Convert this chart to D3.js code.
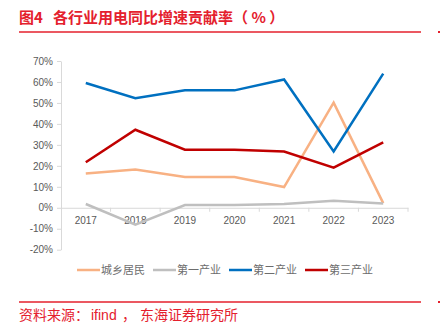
<!DOCTYPE html>
<html><head><meta charset="utf-8">
<script src="https://cdn.jsdelivr.net/npm/d3@7"></script>
<style>body{margin:0;background:#fff;}svg{display:block;}</style>
</head><body>
<script>
const years = ["2017","2018","2019","2020","2021","2022","2023"];
const seriesNames = ["城乡居民","第一产业","第二产业","第三产业"];
const chengxiang = [16.3,18.3,14.7,14.7,9.9,50.1,2.2];
const diyi = [1.8,-8.1,1.3,1.3,1.8,3.3,2.0];
const dier = [59.5,52.3,56.0,56.0,61.2,26.9,64.0];
const disan = [21.7,37.2,27.7,27.7,26.8,19.1,31.2];
const yTicks = [-20,-10,0,10,20,30,40,50,60,70];
const colors = ["#f8b183","#bfbfbf","#0070c0","#c00000"];
const titleParts = ["图4","各行业用电同比增速贡献率（ % ）"];
const sourceParts = ["资料来源：","ifind","，","东海证券研究所"];

const W=440,H=334;
const svg=d3.select("body").append("svg").attr("width",W).attr("height",H);
const red="#e4202d";
const font="'Liberation Sans', Arial, 'Noto Sans CJK SC', sans-serif";
const cjk="'Noto Sans CJK SC', sans-serif";

const t=svg.append("text").attr("y",23).attr("fill",red)
  .attr("font-family",cjk).attr("font-weight","bold").attr("font-size",15);
t.append("tspan").attr("x",19).text(titleParts[0]);
t.append("tspan").attr("x",53).text(titleParts[1]);
svg.append("line").attr("x1",19).attr("x2",421).attr("y1",32).attr("y2",32).attr("stroke",red).attr("stroke-width",1.5);
svg.append("rect").attr("x",438).attr("y",31).attr("width",2).attr("height",2).attr("fill",red);

const x=d3.scaleBand().domain(years).range([61,408]);
const y=d3.scaleLinear().domain([-20,70]).range([249.7,61]);

const xAxis=svg.append("g").attr("transform",`translate(0,${y(0)})`)
  .call(d3.axisBottom(x).tickSize(4).tickSizeOuter(0));
xAxis.selectAll(".tick line").attr("x1",x.bandwidth()/2).attr("x2",x.bandwidth()/2);
xAxis.select(".domain").attr("stroke","#d9d9d9");
xAxis.selectAll(".tick line").attr("stroke","#d9d9d9");
xAxis.selectAll(".tick text").attr("fill","#595959").attr("font-size",10).attr("font-family",font).attr("dy","0.9em");

const yAxis=svg.append("g").attr("transform",`translate(61,0)`)
  .call(d3.axisLeft(y).tickValues(yTicks).tickFormat(d=>d+"%").tickSize(4).tickSizeOuter(0));
yAxis.select(".domain").attr("stroke","#d9d9d9");
yAxis.selectAll(".tick line").attr("stroke","#d9d9d9");
yAxis.selectAll(".tick text").attr("fill","#595959").attr("font-size",10).attr("font-family",font).attr("x",-8);

const data=[chengxiang,diyi,dier,disan];
const line=d3.line().x((d,i)=>x(years[i])+x.bandwidth()/2).y(d=>y(d));
data.forEach((s,k)=>{
  svg.append("path").datum(s).attr("d",line).attr("fill","none")
    .attr("stroke",colors[k]).attr("stroke-width",2.5).attr("stroke-linejoin","miter");
});

const lg=svg.append("g");
seriesNames.forEach((n,k)=>{
  const x0=77+k*76;
  lg.append("line").attr("x1",x0).attr("x2",x0+23).attr("y1",270).attr("y2",270).attr("stroke",colors[k]).attr("stroke-width",2.5);
  lg.append("text").attr("x",x0+24).attr("y",274).attr("fill","#6d6d6d").attr("font-size",11)
    .attr("font-family",cjk).text(n);
});

svg.append("line").attr("x1",19).attr("x2",421).attr("y1",302).attr("y2",302).attr("stroke",red).attr("stroke-width",1.5);
svg.append("rect").attr("x",438).attr("y",301).attr("width",2).attr("height",2).attr("fill",red);
const s=svg.append("text").attr("y",320).attr("fill",red).attr("font-size",14).attr("font-family",cjk);
const sx=[19,91,122,140];
sourceParts.forEach((p,i)=>s.append("tspan").attr("x",sx[i]).attr("font-family",i===1?font:cjk).text(p));
</script>
</body></html>
